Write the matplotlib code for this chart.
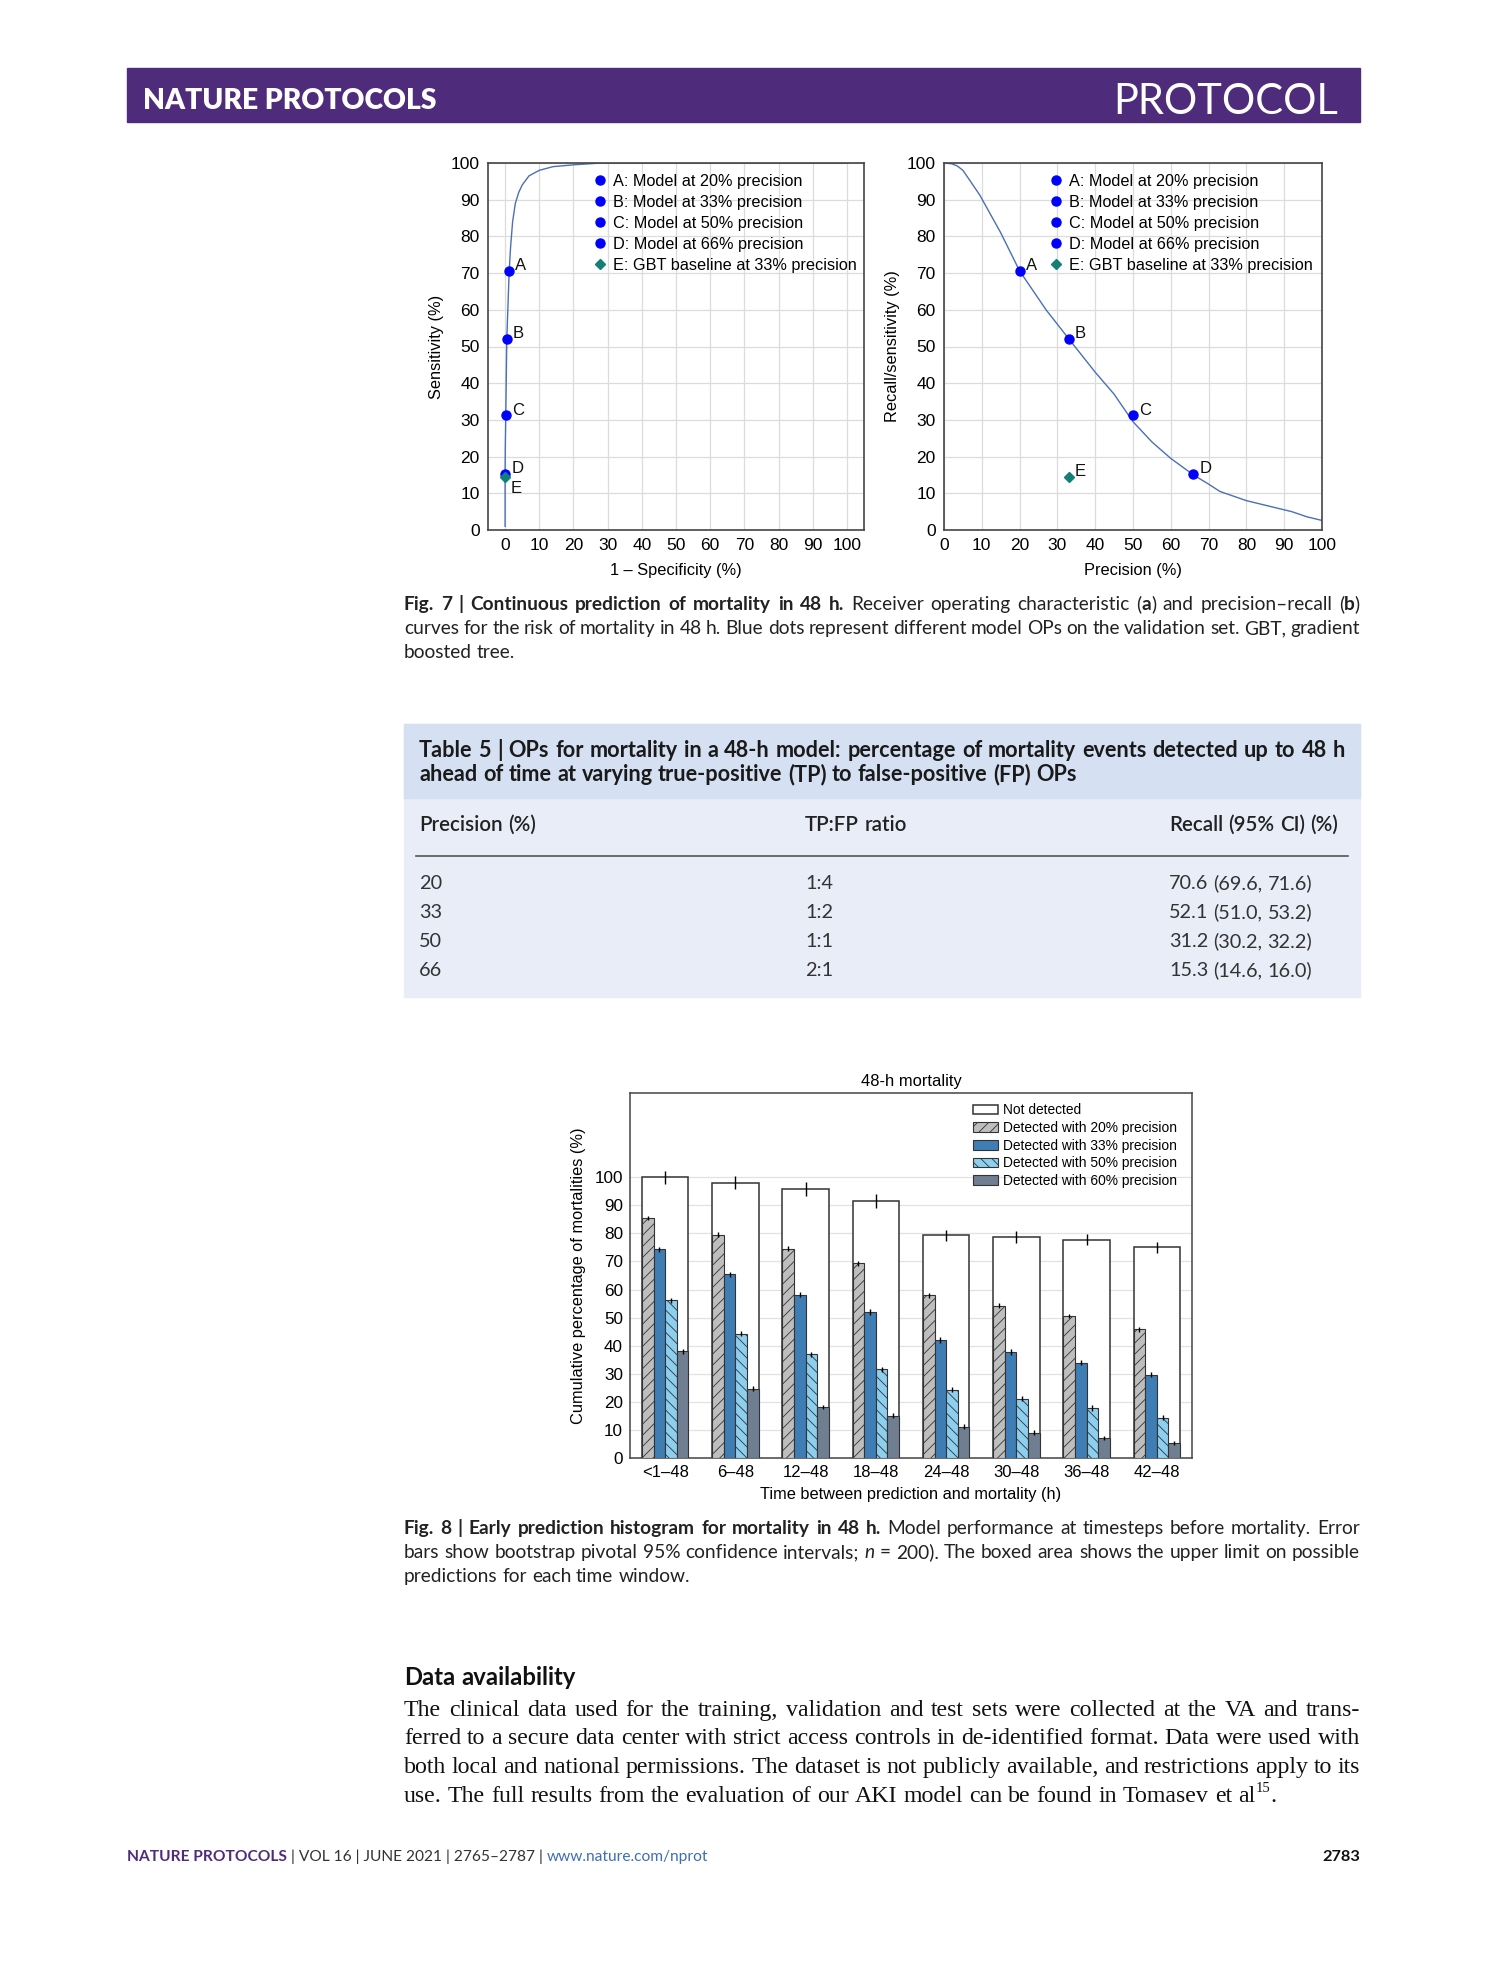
import matplotlib
matplotlib.use('Agg')
import matplotlib.pyplot as plt
from matplotlib.patches import Rectangle
from matplotlib.lines import Line2D
import numpy as np

W, H = 1489, 1978
SANS = ['Liberation Sans', 'DejaVu Sans']
CAP = ['Lato', 'DejaVu Sans']
SERIF = ['Liberation Serif', 'DejaVu Serif']
PURPLE = '#4F2C7B'

# ---- Fig. 7 data ----
op_labels = ['A', 'B', 'C', 'D', 'E']
op_names = ['A: Model at 20% precision', 'B: Model at 33% precision',
            'C: Model at 50% precision', 'D: Model at 66% precision',
            'E: GBT baseline at 33% precision']
op_fpr = [1.2, 0.5, 0.2, 0.05, 0.0]
op_precision = [20, 33, 50, 66, 33]
op_recall = [70.6, 52.1, 31.2, 15.3, 14.5]

roc_fpr = [0, 0, 0.05, 0.2, 0.5, 1.2, 1.6, 2.2, 3, 4, 5, 7, 10, 14, 20, 28, 100]
roc_tpr = [1, 15.3, 22, 31.2, 52.1, 70.6, 77, 84, 89, 92, 94, 96.5, 98, 99, 99.5, 100, 100]

pr_precision = [0, 2, 3.5, 5, 7, 9.5, 15, 20, 27, 33, 40, 45, 50, 55, 60, 66, 70, 73, 80, 86, 92, 96, 100]
pr_recall = [100, 99.8, 99.2, 98, 95, 91.2, 81, 70.6, 60, 52.1, 43, 37, 29.5, 24, 19.5, 15, 12.5, 10.5, 8, 6.5, 5, 3.6, 2.6]

# ---- Table 5 ----
tab_precision = ['20', '33', '50', '66']
tab_ratio = ['1:4', '1:2', '1:1', '2:1']
tab_recall = ['70.6 (69.6, 71.6)', '52.1 (51.0, 53.2)', '31.2 (30.2, 32.2)', '15.3 (14.6, 16.0)']

# ---- Fig. 8 data ----
windows = ['<1\u201348', '6\u201348', '12\u201348', '18\u201348', '24\u201348', '30\u201348', '36\u201348', '42\u201348']
upper = [100, 98.1, 95.8, 91.5, 79.3, 78.7, 77.7, 75.0]
upper_err = [2.3, 2.3, 2.6, 2.6, 2.0, 2.0, 2.0, 2.0]
det20 = [85.5, 79.6, 74.6, 69.3, 57.9, 54.3, 50.6, 45.8]
det33 = [74.3, 65.4, 58.2, 52.1, 42.0, 37.7, 34.0, 29.7]
det50 = [56.1, 44.3, 36.9, 31.6, 24.3, 21.1, 17.8, 14.4]
det60 = [38.0, 24.7, 18.1, 15.1, 11.2, 9.0, 7.2, 5.4]
det_err = [0.8, 1.0, 0.9, 0.8]
series_labels = ['Detected with 20% precision', 'Detected with 33% precision',
                 'Detected with 50% precision', 'Detected with 60% precision']

plt.rcParams['hatch.linewidth'] = 0.6
fig = plt.figure(figsize=(W / 100, H / 100), dpi=100)
rend = fig.canvas.get_renderer()


def fx(x):
    return x / W


def fy(y):
    return 1 - y / H


def box(x0, y0, x1, y1):
    return [fx(x0), fy(y1), (x1 - x0) / W, (y1 - y0) / H]


def rect(x0, y0, x1, y1, color):
    fig.patches.append(Rectangle((fx(x0), fy(y1)), (x1 - x0) / W, (y1 - y0) / H,
                                 transform=fig.transFigure, color=color, zorder=0))


def parse(line):
    words, cur, bold, ital, buf = [], [], False, False, ''
    for ch in line + ' ':
        if ch in '*_ ':
            if buf:
                cur.append((buf, bold, ital))
                buf = ''
            if ch == '*':
                bold = not bold
            elif ch == '_':
                ital = not ital
            elif cur:
                words.append(cur)
                cur = []
        else:
            buf += ch
    return words


def width_of(t):
    return t.get_window_extent(renderer=rend).width


def text_line(x0, y, line, size, family, color='#222222', x1=None, bw='bold', nw='normal'):
    words = parse(line)
    objs = []
    for w in words:
        segs = []
        for s, b, it in w:
            t = fig.text(0, 0, s, fontsize=size, family=family, color=color,
                         fontweight=bw if b else nw, fontstyle='italic' if it else 'normal',
                         va='baseline', ha='left')
            segs.append((t, width_of(t)))
        objs.append(segs)
    probe = [fig.text(0, 0, s, fontsize=size, family=family) for s in ('a a', 'aa')]
    space = width_of(probe[0]) - width_of(probe[1])
    for p in probe:
        p.remove()
    wsum = [sum(s[1] for s in segs) for segs in objs]
    gap = space
    if x1 is not None and len(objs) > 1:
        gap = (x1 - x0 - sum(wsum)) / (len(objs) - 1)
    x = x0
    for segs, ws in zip(objs, wsum):
        xx = x
        for t, tw in segs:
            t.set_position((fx(xx), fy(y)))
            xx += tw
        x += ws + gap
    return x - gap


# ---- header ----
rect(127, 68, 1360, 122, PURPLE)
fig.text(fx(143), fy(109), 'NATURE PROTOCOLS', fontsize=20.3, family=CAP, fontweight='heavy',
         color='white', va='baseline')
fig.text(fx(1338), fy(114), 'PROTOCOL', fontsize=30, family=CAP, fontweight='normal',
         color='white', va='baseline', ha='right')


# ---- Fig. 7 panels ----
def op_panel(ax, xs, ys, px, xlim, xlabel, ylabel, e_offset):
    ax.plot(xs, ys, color='#4A70B5', lw=1, zorder=2)
    ax.plot(px[:4], op_recall[:4], 'o', color='#0000FF', ms=6.5, zorder=3)
    ax.plot(px[4:], op_recall[4:], 'D', color='#138077', ms=5.5, zorder=3)
    for i, lab in enumerate(op_labels):
        off = e_offset if lab == 'E' else (6, 5)
        ax.annotate(lab, (px[i], op_recall[i]), xytext=off, textcoords='offset pixels',
                    fontsize=12, family=SANS, va='center', ha='left', color='#111111')
    ax.set_xlim(*xlim)
    ax.set_ylim(0, 100)
    ax.set_xticks(np.arange(0, 101, 10))
    ax.set_yticks(np.arange(0, 101, 10))
    ax.grid(color='#DCDCDC', lw=0.9)
    ax.set_axisbelow(True)
    ax.tick_params(length=0, labelsize=12.5, pad=6)
    for lb in ax.get_xticklabels() + ax.get_yticklabels():
        lb.set_family(SANS)
    for sp in ax.spines.values():
        sp.set_color('#444444')
        sp.set_linewidth(1.2)
    ax.set_xlabel(xlabel, fontsize=11.8, family=SANS, labelpad=7)
    ax.set_ylabel(ylabel, fontsize=11.8, family=SANS, labelpad=5)
    handles = [Line2D([], [], ls='', marker='o', color='#0000FF', ms=6.5) for _ in range(4)]
    handles.append(Line2D([], [], ls='', marker='D', color='#138077', ms=5.5))
    ax.legend(handles, op_names, loc='upper left', bbox_to_anchor=(0.28, 0.971),
              frameon=False, prop={'family': SANS, 'size': 11.7},
              handlelength=0.8, handletextpad=0.4, labelspacing=0.37,
              borderpad=0, borderaxespad=0)


ax1 = fig.add_axes(box(488, 163, 864, 530))
op_panel(ax1, roc_fpr, roc_tpr, op_fpr, (-5, 105), '1 \u2013 Specificity (%)', 'Sensitivity (%)', (6, -12))
ax2 = fig.add_axes(box(944, 163, 1322, 530))
op_panel(ax2, pr_precision, pr_recall, op_precision, (0, 100), 'Precision (%)', 'Recall/sensitivity (%)', (6, 5))

# ---- Fig. 7 caption ----
L, R = 404, 1360
CS = 13.8
text_line(L, 610, '*Fig. 7 | Continuous prediction of mortality in 48 h.* Receiver operating characteristic (*a*) and precision\u2013recall (*b*)',
          CS, CAP, x1=R)
text_line(L, 634, 'curves for the risk of mortality in 48 h. Blue dots represent different model OPs on the validation set. GBT, gradient',
          CS, CAP, x1=R)
text_line(L, 658, 'boosted tree.', CS, CAP)

# ---- Table 5 ----
rect(404, 724, 1360, 997, '#E8EDF8')
rect(404, 724, 1360, 798, '#D5E1F2')
text_line(419, 757, '*Table 5 | OPs for mortality in a 48-h model: percentage of mortality events detected up to 48 h*',
          15.6, CAP, x1=1345, color='#1A1A1A')
text_line(419, 781, '*ahead of time at varying true-positive (TP) to false-positive (FP) OPs*', 15.6, CAP, color='#1A1A1A')
col_x = [419, 805, 1169]
for cx, head in zip(col_x, ['Precision (%)', 'TP:FP ratio', 'Recall (95% CI) (%)']):
    text_line(cx, 831, '*' + head + '*', 14.8, CAP, bw='semibold')
fig.add_artist(Line2D([fx(416), fx(1348)], [fy(856), fy(856)], color='#555555', lw=1.2))
for i in range(4):
    yb = 889 + i * 29
    for cx, col in zip(col_x, [tab_precision, tab_ratio, tab_recall]):
        text_line(cx, yb, col[i], 14.3, CAP, color='#333333')

# ---- Fig. 8 ----
ax3 = fig.add_axes(box(630, 1093, 1192, 1458))
x = np.arange(len(windows))
bw = 0.165
ax3.bar(x, upper, width=4 * bw, color='white', edgecolor='#333333', lw=1.1,
        yerr=upper_err, error_kw=dict(elinewidth=1, ecolor='black', capsize=0), zorder=2,
        label='Not detected')
styles = [dict(color='#BEBEBE', hatch='///'), dict(color='#3F7DB5', hatch=None),
          dict(color='#8DCFEF', hatch='\\\\\\'), dict(color='#6F7E91', hatch=None)]
for k, (vals, st, lab) in enumerate(zip([det20, det33, det50, det60], styles, series_labels)):
    ax3.bar(x + (k - 1.5) * bw, vals, width=bw, color=st['color'], hatch=st['hatch'],
            edgecolor='#333333', lw=0.8, yerr=det_err[k],
            error_kw=dict(elinewidth=1, ecolor='black', capsize=0), zorder=3, label=lab)
ax3.set_xlim(-0.5, len(windows) - 0.5)
ax3.set_ylim(0, 130)
ax3.set_yticks(np.arange(0, 101, 10))
ax3.set_xticks(x)
ax3.set_xticklabels(windows)
ax3.yaxis.grid(True, color='#E2E2E2', lw=0.9)
ax3.set_axisbelow(True)
ax3.tick_params(length=0, labelsize=12.3, pad=5)
ax3.tick_params(axis='x', labelsize=12)
for lb in ax3.get_xticklabels() + ax3.get_yticklabels():
    lb.set_family(SANS)
for sp in ax3.spines.values():
    sp.set_color('#444444')
    sp.set_linewidth(1.1)
ax3.set_title('48-h mortality', fontsize=11.9, family=SANS, pad=5)
ax3.set_xlabel('Time between prediction and mortality (h)', fontsize=11.8, family=SANS, labelpad=5)
ax3.set_ylabel('Cumulative percentage of mortalities (%)', fontsize=11.8, family=SANS, labelpad=6)
hd, lb = ax3.get_legend_handles_labels()
ax3.legend(hd, lb, loc='upper left', bbox_to_anchor=(0.61, 0.972), frameon=False,
           prop={'family': SANS, 'size': 9.9}, handlelength=1.8, handleheight=0.7,
           handletextpad=0.4, labelspacing=0.27, borderpad=0, borderaxespad=0)

# ---- Fig. 8 caption ----
text_line(L, 1534, '*Fig. 8 | Early prediction histogram for mortality in 48 h.* Model performance at timesteps before mortality. Error',
          CS, CAP, x1=R)
text_line(L, 1558, 'bars show bootstrap pivotal 95% confidence intervals; _n_ = 200). The boxed area shows the upper limit on possible',
          CS, CAP, x1=R)
text_line(L, 1582, 'predictions for each time window.', CS, CAP)

# ---- Data availability ----
BS = 17.2
text_line(L, 1685, '*Data availability*', 17.2, CAP, color='#111111')
body = ['The clinical data used for the training, validation and test sets were collected at the VA and trans-',
        'ferred to a secure data center with strict access controls in de-identified format. Data were used with',
        'both local and national permissions. The dataset is not publicly available, and restrictions apply to its']
for i, ln in enumerate(body):
    text_line(L, 1716 + i * 28.5, ln, BS, SERIF, color='#111111', x1=R)
yl = 1716 + 3 * 28.5
xe = text_line(L, yl, 'use. The full results from the evaluation of our AKI model can be found in Tomasev et al',
               BS, SERIF, color='#111111')
t = fig.text(fx(xe + 1), fy(yl - 9), '15', fontsize=10.5, family=SERIF, color='#111111', va='baseline')
xe2 = xe + 1 + width_of(t)
fig.text(fx(xe2), fy(yl), '.', fontsize=BS, family=SERIF, color='#111111', va='baseline')

# ---- footer ----
FS = 11.2
t = fig.text(fx(127), fy(1861), 'NATURE PROTOCOLS', fontsize=FS, family=CAP, fontweight='bold',
             color=PURPLE, va='baseline')
xx = 127 + width_of(t)
t = fig.text(fx(xx), fy(1861), ' | VOL 16 | JUNE 2021 | 2765\u20132787 | ', fontsize=FS, family=CAP,
             color='#333333', va='baseline')
xx += width_of(t)
fig.text(fx(xx), fy(1861), 'www.nature.com/nprot', fontsize=FS, family=CAP, color='#3D6FB4', va='baseline')
fig.text(fx(1360), fy(1861), '2783', fontsize=11.8, family=CAP, fontweight='bold', color='#111111',
         va='baseline', ha='right')

fig.savefig('out.png', dpi=100, facecolor='white')
